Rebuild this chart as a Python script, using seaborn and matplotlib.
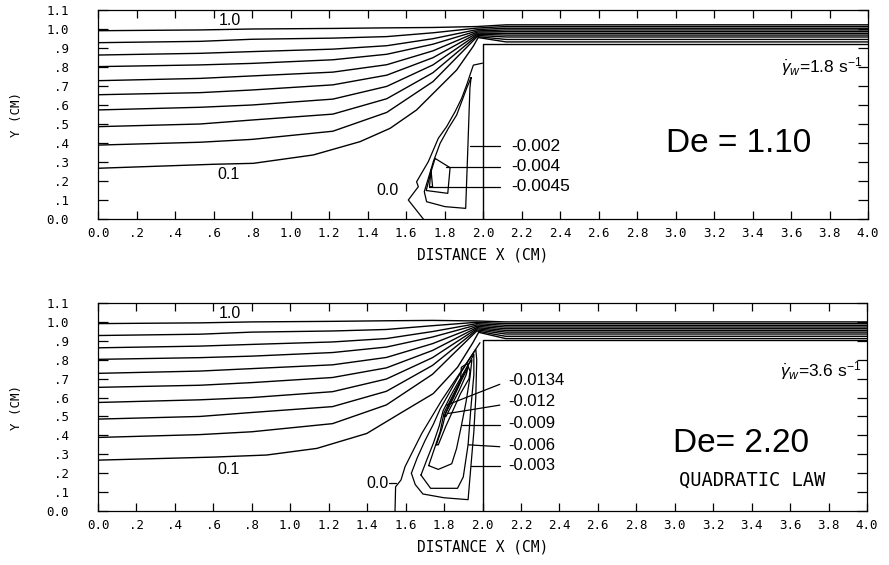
import numpy as np
import pandas as pd
import matplotlib
matplotlib.use("Agg")
import matplotlib.pyplot as plt
import seaborn as sns

sns.set_theme(style="ticks")
plt.rcParams.update({
    "font.family": ["DejaVu Sans Mono", "DejaVu Sans"],
    "text.color": "black",
    "axes.labelcolor": "black",
    "axes.edgecolor": "black",
    "axes.linewidth": 0.9,
    "xtick.color": "black",
    "ytick.color": "black",
    "xtick.labelcolor": "black",
    "ytick.labelcolor": "black",
    "xtick.direction": "in",
    "ytick.direction": "in",
    "xtick.top": True,
    "ytick.right": True,
    "mathtext.fontset": "custom",
    "mathtext.rm": "Liberation Sans",
    "mathtext.it": "Liberation Sans:italic",
})

# ---------------------------------------------------------------- data
# stream function levels drawn upstream (0.1 is handled separately)
psi_levels = [0.2, 0.3, 0.4, 0.5, 0.6, 0.7, 0.8, 0.9, 1.0]

# upstream stations (cm) and the height of each streamline there
x_stations = [0.0, 0.53, 0.80, 1.22, 1.50, 1.74]
y_x000 = [0.389, 0.486, 0.574, 0.654, 0.728, 0.802, 0.863, 0.928, 0.991]
y_x053 = [0.404, 0.500, 0.588, 0.665, 0.740, 0.811, 0.872, 0.935, 0.995]
y_x080 = [0.419, 0.521, 0.600, 0.679, 0.753, 0.819, 0.881, 0.946, 1.000]
y_x122 = [0.462, 0.552, 0.631, 0.706, 0.773, 0.838, 0.894, 0.952, 1.003]
y_x150 = [0.561, 0.633, 0.698, 0.757, 0.812, 0.867, 0.912, 0.960, 1.006]
y_x174 = [0.723, 0.770, 0.811, 0.849, 0.885, 0.920, 0.949, 0.980, 1.008]

# heights at the contraction entry (x = 1.97) and in the downstream slit
x_entry = 1.97
x_slit = [2.12, 4.0]
entry_de110 = [0.960, 0.966, 0.972, 0.978, 0.984, 0.990, 0.997, 1.005, 1.013]
slit_de110 = [0.945, 0.958, 0.968, 0.977, 0.986, 0.995, 1.004, 1.013, 1.022]
entry_de220 = [0.952, 0.958, 0.964, 0.970, 0.977, 0.984, 0.991, 0.998, 1.005]
slit_de220 = [0.924, 0.936, 0.946, 0.955, 0.964, 0.973, 0.982, 0.991, 1.000]

# the psi = 0.1 streamline
psi01_x_de110 = [0.0, 0.60, 0.807, 1.118, 1.361, 1.517, 1.655, 1.759, 1.863, 1.95, 1.975, 2.12, 4.0]
psi01_y_de110 = [0.267, 0.288, 0.293, 0.337, 0.407, 0.477, 0.574, 0.679, 0.784, 0.91, 0.955, 0.932, 0.932]
psi01_x_de220 = [0.0, 0.60, 0.877, 1.138, 1.398, 1.571, 1.744, 1.87, 1.95, 1.98, 2.12, 4.0]
psi01_y_de220 = [0.269, 0.285, 0.296, 0.331, 0.410, 0.516, 0.621, 0.76, 0.89, 0.945, 0.912, 0.912]

# lower wall of the downstream slit
wall_de110 = 0.92
wall_de220 = 0.903

# recirculation contours, De = 1.10
v110_psi = ["0.0", "-0.002", "-0.004", "-0.0045"]
v110_x = [
    [1.69, 1.612, 1.664, 1.655, 1.716, 1.768, 1.811, 1.855, 1.889, 1.915, 1.938, 1.95, 1.997],
    [1.938, 1.932, 1.92, 1.91, 1.803, 1.707, 1.695, 1.716, 1.742, 1.777, 1.82, 1.863, 1.889, 1.915, 1.938],
    [1.751, 1.829, 1.817, 1.705, 1.73, 1.751],
    [1.73, 1.738, 1.722, 1.73],
]
v110_y = [
    [0.0, 0.10, 0.17, 0.196, 0.302, 0.425, 0.486, 0.565, 0.635, 0.705, 0.775, 0.81, 0.82],
    [0.744, 0.688, 0.337, 0.056, 0.065, 0.091, 0.144, 0.214, 0.302, 0.398, 0.477, 0.547, 0.617, 0.688, 0.744],
    [0.319, 0.27, 0.135, 0.15, 0.249, 0.319],
    [0.258, 0.17, 0.17, 0.258],
]

# recirculation contours, De = 2.20
v220_psi = ["0.0", "-0.003", "-0.006", "-0.009", "-0.012", "-0.0134"]
v220_x = [
    [1.545, 1.548, 1.576, 1.597, 1.632, 1.684, 1.736, 1.788, 1.84, 1.892, 1.944, 1.987],
    [1.63, 1.66, 1.70, 1.745, 1.78, 1.83, 1.88, 1.93, 1.965, 1.97, 1.965, 1.955, 1.94, 1.925, 1.80, 1.69, 1.65, 1.63],
    [1.68, 1.71, 1.745, 1.775, 1.795, 1.84, 1.89, 1.935, 1.955, 1.955, 1.94, 1.925, 1.90, 1.87, 1.73, 1.68],
    [1.72, 1.75, 1.78, 1.80, 1.845, 1.89, 1.93, 1.945, 1.935, 1.915, 1.89, 1.865, 1.84, 1.77, 1.72],
    [1.76, 1.79, 1.81, 1.85, 1.885, 1.89, 1.92, 1.935, 1.93, 1.885, 1.85, 1.81, 1.77, 1.76],
    [1.80, 1.83, 1.87, 1.91, 1.925, 1.915, 1.88, 1.84, 1.81, 1.80],
]
v220_y = [
    [0.0, 0.128, 0.164, 0.234, 0.305, 0.41, 0.498, 0.586, 0.665, 0.744, 0.824, 0.89],
    [0.20, 0.28, 0.37, 0.46, 0.54, 0.63, 0.72, 0.80, 0.855, 0.80, 0.60, 0.42, 0.24, 0.06, 0.07, 0.09, 0.14, 0.20],
    [0.19, 0.27, 0.36, 0.45, 0.53, 0.62, 0.71, 0.79, 0.83, 0.72, 0.55, 0.35, 0.18, 0.12, 0.12, 0.19],
    [0.24, 0.33, 0.42, 0.52, 0.61, 0.70, 0.78, 0.80, 0.71, 0.58, 0.45, 0.33, 0.25, 0.22, 0.24],
    [0.35, 0.44, 0.52, 0.60, 0.68, 0.76, 0.78, 0.74, 0.70, 0.62, 0.54, 0.45, 0.35, 0.35],
    [0.50, 0.57, 0.65, 0.73, 0.76, 0.72, 0.64, 0.56, 0.50, 0.50],
]

# labelled contour values with leader lines
lab110_text = ["-0.002", "-0.004", "-0.0045"]
lab110_y = [0.384, 0.275, 0.17]
lead110_x0 = [1.93, 1.81, 1.72]
lab220_text = ["-0.0134", "-0.012", "-0.009", "-0.006", "-0.003"]
lab220_y = [0.69, 0.577, 0.463, 0.348, 0.243]
lead220_x0 = [1.814, 1.822, 1.892, 1.926, 1.94]
lead220_y0 = [0.56, 0.516, 0.454, 0.35, 0.24]
lead220_y1 = [0.67, 0.56, 0.454, 0.34, 0.24]

x_ticks = np.round(np.arange(0, 4.01, 0.2), 1)
x_ticklabels = ["0.0", ".2", ".4", ".6", ".8", "1.0", "1.2", "1.4", "1.6", "1.8", "2.0",
                "2.2", "2.4", "2.6", "2.8", "3.0", "3.2", "3.4", "3.6", "3.8", "4.0"]
y_ticks = np.round(np.arange(0, 1.11, 0.1), 1)
y_ticklabels = ["0.0", ".1", ".2", ".3", ".4", ".5", ".6", ".7", ".8", ".9", "1.0", "1.1"]

upstream = [y_x000, y_x053, y_x080, y_x122, y_x150, y_x174]

LABEL_FONT = ["Liberation Sans", "DejaVu Sans"]


def streamline_frame(entry, slit, p01x, p01y):
    rows = []
    for i, psi in enumerate(psi_levels):
        xs = list(x_stations) + [x_entry] + list(x_slit)
        ys = [st[i] for st in upstream] + [entry[i], slit[i], slit[i]]
        for k, (xx, yy) in enumerate(zip(xs, ys)):
            rows.append({"line": f"psi{psi}", "order": k, "x": xx, "y": yy})
    for k, (xx, yy) in enumerate(zip(p01x, p01y)):
        rows.append({"line": "psi0.1", "order": k, "x": xx, "y": yy})
    return pd.DataFrame(rows)


def contour_frame(names, xs, ys):
    rows = []
    for name, cx, cy in zip(names, xs, ys):
        for k, (xx, yy) in enumerate(zip(cx, cy)):
            rows.append({"line": name, "order": k, "x": xx, "y": yy})
    return pd.DataFrame(rows)


def style_axes(ax):
    ax.set_xlim(0, 4.0)
    ax.set_ylim(0, 1.1)
    ax.set_xticks(x_ticks)
    ax.set_xticklabels(x_ticklabels)
    ax.set_yticks(y_ticks)
    ax.set_yticklabels(y_ticklabels)
    ax.tick_params(axis="x", length=5.5, width=0.9, pad=6, labelsize=9)
    ax.tick_params(axis="y", length=7, width=0.9, pad=21, labelsize=9)
    ax.set_xlabel("DISTANCE X (CM)", fontsize=10.5, labelpad=5)
    ax.set_ylabel("Y (CM)", fontsize=9, labelpad=17)
    for sp in ax.spines.values():
        sp.set_visible(True)
        sp.set_linewidth(0.9)


def draw_panel(ax, entry, slit, p01x, p01y, wall, vnames, vx, vy):
    df = streamline_frame(entry, slit, p01x, p01y)
    sns.lineplot(data=df, x="x", y="y", units="line", estimator=None, sort=False,
                 color="black", lw=1.0, ax=ax, legend=False)
    vf = contour_frame(vnames, vx, vy)
    sns.lineplot(data=vf, x="x", y="y", units="line", estimator=None, sort=False,
                 color="black", lw=0.9, ax=ax, legend=False)
    wf = pd.DataFrame({"x": [2.0, 2.0, 4.0], "y": [0.0, wall, wall]})
    sns.lineplot(data=wf, x="x", y="y", estimator=None, sort=False,
                 color="black", lw=1.0, ax=ax, legend=False)
    ax.text(0.686, 1.046, "1.0", fontsize=11.5, family=LABEL_FONT, ha="center", va="center")
    style_axes(ax)


fig = plt.figure(figsize=(8.89, 5.65), dpi=100)
ax1 = fig.add_axes([98 / 889, 1 - 219 / 565, 770 / 889, 209 / 565])
ax2 = fig.add_axes([98 / 889, 1 - 511 / 565, 769 / 889, 208 / 565])

# ---- De = 1.10
draw_panel(ax1, entry_de110, slit_de110, psi01_x_de110, psi01_y_de110,
           wall_de110, v110_psi, v110_x, v110_y)
ax1.text(0.677, 0.232, "0.1", fontsize=11.5, family=LABEL_FONT, ha="center", va="center")
ax1.text(1.504, 0.149, "0.0", fontsize=11.5, family=LABEL_FONT, ha="center", va="center")
for txt, yy, x0 in zip(lab110_text, lab110_y, lead110_x0):
    ax1.plot([x0, 2.09], [yy, yy], color="black", lw=0.9)
    ax1.text(2.145, yy, txt, fontsize=12.5, family=LABEL_FONT, ha="left", va="center")
ax1.text(3.326, 0.398, "De = 1.10", fontsize=24, family=LABEL_FONT, ha="center", va="center")
ax1.text(3.55, 0.80, r"$\dot{\gamma}_{w}$=1.8 s$^{-1}$", fontsize=12.5, family=LABEL_FONT,
         ha="left", va="center")

# ---- De = 2.20
draw_panel(ax2, entry_de220, slit_de220, psi01_x_de220, psi01_y_de220,
           wall_de220, v220_psi, v220_x, v220_y)
ax2.text(0.677, 0.22, "0.1", fontsize=11.5, family=LABEL_FONT, ha="center", va="center")
ax2.text(1.455, 0.148, "0.0", fontsize=11.5, family=LABEL_FONT, ha="center", va="center")
ax2.plot([1.512, 1.55], [0.148, 0.148], color="black", lw=0.9)
for txt, yt, x0, y0, y1 in zip(lab220_text, lab220_y, lead220_x0, lead220_y0, lead220_y1):
    ax2.plot([x0, 2.09], [y0, y1], color="black", lw=0.9)
    ax2.text(2.135, yt, txt, fontsize=12, family=LABEL_FONT, ha="left", va="center")
ax2.text(3.343, 0.357, "De= 2.20", fontsize=24, family=LABEL_FONT, ha="center", va="center")
ax2.text(3.40, 0.164, "QUADRATIC LAW", fontsize=13.5, family=["DejaVu Sans Mono"],
         ha="center", va="center")
ax2.text(3.55, 0.745, r"$\dot{\gamma}_{w}$=3.6 s$^{-1}$", fontsize=12.5, family=LABEL_FONT,
         ha="left", va="center")

fig.savefig("out.png", dpi=100, facecolor="white")
